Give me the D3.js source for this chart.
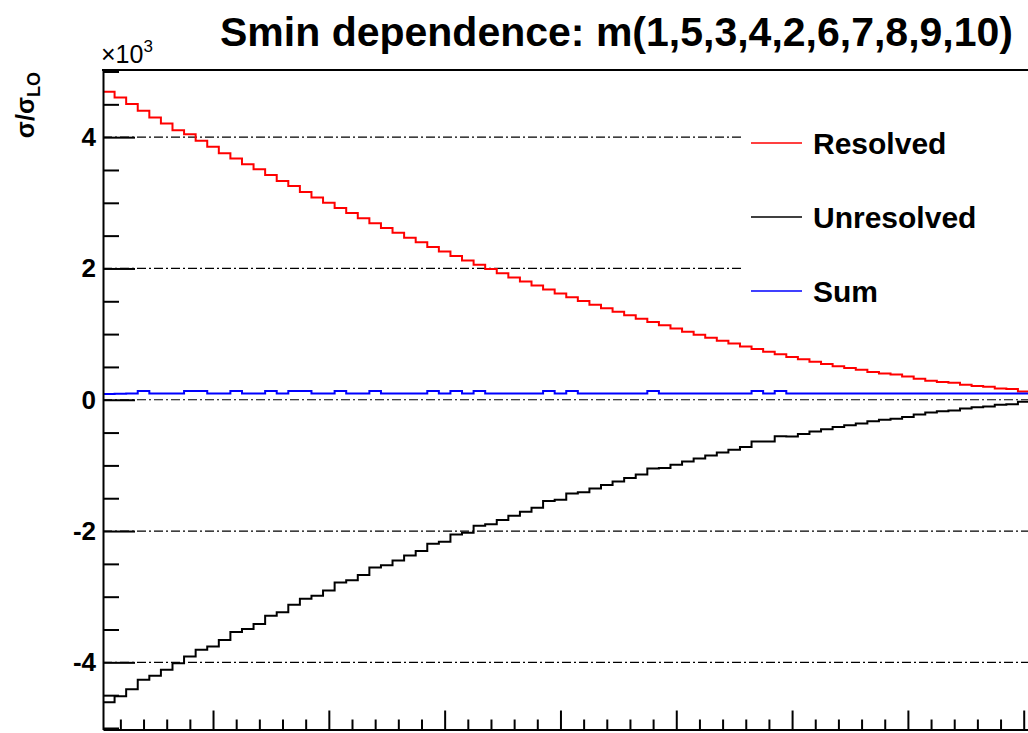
<!DOCTYPE html>
<html>
<head>
<meta charset="utf-8">
<script src="https://cdn.jsdelivr.net/npm/d3@7"></script>
<style>
  html, body { margin: 0; padding: 0; background: #fff; }
  svg { display: block; }
  text { font-family: "Liberation Sans", Arial, Helvetica, sans-serif; font-weight: bold; fill: #000; }
</style>
</head>
<body>
<svg id="chart" width="1028" height="733"></svg>
<script>
// Histogram binning of Smin
const nBins = 80;
const xMin = 0.0005;
const xMax = 0.0805;

// Bin contents (sigma / sigma_LO)
const resolved = [
  4692, 4606, 4504, 4402, 4300, 4209, 4107, 4046, 3944, 3852,
  3756, 3674, 3588, 3511, 3424, 3333, 3257, 3165, 3079, 2999,
  2920, 2843, 2766, 2690, 2616, 2542, 2469, 2398, 2327, 2258,
  2189, 2122, 2056, 1990, 1926, 1863, 1800, 1739, 1679, 1620,
  1562, 1505, 1448, 1393, 1339, 1286, 1235, 1184, 1134, 1085,
  1037,  990,  944,  900,  856,  813,  772,  731,  692,  653,
   616,  579,  544,  509,  484,  458,  423,  400,  385,  356,
   321,  290,  270,  258,  229,  210,  198,  172,  163,  127
];
const unresolved = [
  -4606, -4516, -4409, -4267, -4205, -4114, -4012, -3911, -3809, -3757,
  -3661, -3539, -3493, -3416, -3289, -3238, -3122, -3030, -2984, -2904,
  -2785, -2748, -2671, -2555, -2521, -2447, -2374, -2303, -2192, -2163,
  -2054, -2027, -1921, -1895, -1831, -1768, -1705, -1644, -1544, -1525,
  -1427, -1410, -1353, -1298, -1244, -1191, -1140, -1049, -1039,  -990,
   -942,  -895,  -849,  -805,  -761,  -718,  -637,  -636,  -557,  -558,
   -521,  -484,  -449,  -414,  -389,  -363,  -328,  -305,  -290,  -261,
   -226,  -195,  -175,  -163,  -134,  -115,  -103,   -77,   -68,   -32
];
const sum = [
   86,  90,  95, 135,  95,  95,  95, 135, 135,  95,
   95, 135,  95,  95, 135,  95, 135, 135,  95,  95,
  135,  95,  95, 135,  95,  95,  95,  95, 135,  95,
  135,  95, 135,  95,  95,  95,  95,  95, 135,  95,
  135,  95,  95,  95,  95,  95,  95, 135,  95,  95,
   95,  95,  95,  95,  95,  95, 135,  95, 135,  95,
   95,  95,  95,  95,  95,  95,  95,  95,  95,  95,
   95,  95,  95,  95,  95,  95,  95,  95,  95,  95
];

// Axis ticks
const yMajorTicks = [-4000, -2000, 0, 2000, 4000];
const yTickLabels = ["-4", "-2", "0", "2", "4"];
const yMinorStep = 500;
const yLimit = 5023;
const xMajorStep = 0.01;
const xMinorStep = 0.002;

// Legend
const seriesNames = ["Resolved", "Unresolved", "Sum"];
const seriesColors = ["#ff0000", "#000000", "#0000ff"];
const seriesData = [resolved, unresolved, sum];

const titleText = "Smin dependence: m(1,5,3,4,2,6,7,8,9,10)";

const frame = { left: 103, right: 1029.5, top: 70, bottom: 729.5 };
const svg = d3.select("#chart");

const x = d3.scaleLinear().domain([xMin, xMax]).range([frame.left, frame.right]);
const y = d3.scaleLinear().domain([-yLimit, yLimit]).range([frame.bottom, frame.top]);

const binWidth = (xMax - xMin) / nBins;

// Horizontal dash-dot grid at the major y ticks
svg.append("g").selectAll("line")
  .data(yMajorTicks)
  .join("line")
  .attr("x1", frame.left).attr("x2", frame.right)
  .attr("y1", d => y(d)).attr("y2", d => y(d))
  .attr("stroke", "#000")
  .attr("stroke-width", 1.2)
  .attr("stroke-dasharray", "9,3,2,3");

// Step outlines of the histograms
const stepLine = d3.line().x(d => x(d[0])).y(d => y(d[1]));
function stepPoints(values) {
  return values.flatMap((v, i) => [
    [xMin + i * binWidth, v],
    [xMin + (i + 1) * binWidth, v]
  ]);
}
svg.append("g").selectAll("path")
  .data(seriesData)
  .join("path")
  .attr("d", d => stepLine(stepPoints(d)))
  .attr("fill", "none")
  .attr("stroke", (d, i) => seriesColors[i])
  .attr("stroke-width", 2);

// Legend (white box without border)
const legend = svg.append("g");
const legendTop = 106, legendStep = 74;
legend.append("rect")
  .attr("x", 741).attr("y", legendTop)
  .attr("width", 300).attr("height", legendStep * seriesNames.length)
  .attr("fill", "#fff");
const entries = legend.selectAll("g.entry")
  .data(seriesNames)
  .join("g")
  .attr("class", "entry")
  .attr("transform", (d, i) => `translate(0,${legendTop + legendStep * (i + 0.5)})`);
entries.append("line")
  .attr("x1", 751).attr("x2", 802)
  .attr("y1", 0).attr("y2", 0)
  .attr("stroke", (d, i) => seriesColors[i])
  .attr("stroke-width", 1.6);
entries.append("text")
  .attr("x", 813).attr("y", 0).attr("dy", "0.36em")
  .style("font-size", "30px")
  .text(d => d);

// Y axis: major ticks with labels, minor ticks, ticks pointing inward
const yMinorTicks = d3.range(-5000, 5000 + 1, yMinorStep).filter(v => !yMajorTicks.includes(v));
const yMajorAxis = d3.axisLeft(y)
  .tickValues(yMajorTicks)
  .tickSizeInner(-32).tickSizeOuter(0).tickPadding(7)
  .tickFormat((d, i) => yTickLabels[i]);
const gy = svg.append("g").attr("transform", `translate(${frame.left},0)`).call(yMajorAxis);
gy.select(".domain").attr("stroke", "#000").attr("stroke-width", 2);
gy.selectAll(".tick line").attr("stroke", "#000").attr("stroke-width", 2);
gy.selectAll(".tick text")
  .style("font-family", "'Liberation Sans', Arial, sans-serif")
  .style("font-weight", "bold")
  .style("font-size", "26px")
  .attr("fill", "#000");
const gyMinor = svg.append("g").attr("transform", `translate(${frame.left},0)`)
  .call(d3.axisLeft(y).tickValues(yMinorTicks).tickSizeInner(-16).tickSizeOuter(0).tickFormat(""));
gyMinor.select(".domain").remove();
gyMinor.selectAll(".tick line").attr("stroke", "#000").attr("stroke-width", 2);

// X axis: ticks only (labels fall outside the canvas)
const xMajorTicks = d3.range(1, 9).map(k => +(k * xMajorStep).toFixed(4));
const xMinorTicks = d3.range(1, 41).map(k => +(k * xMinorStep).toFixed(4))
  .filter(v => !xMajorTicks.some(m => Math.abs(m - v) < 1e-9));
const gx = svg.append("g").attr("transform", `translate(0,${frame.bottom})`)
  .call(d3.axisBottom(x).tickValues(xMajorTicks).tickSizeInner(-19).tickSizeOuter(0).tickFormat(""));
gx.select(".domain").attr("stroke", "#000").attr("stroke-width", 2);
gx.selectAll(".tick line").attr("stroke", "#000").attr("stroke-width", 2);
const gxMinor = svg.append("g").attr("transform", `translate(0,${frame.bottom})`)
  .call(d3.axisBottom(x).tickValues(xMinorTicks).tickSizeInner(-10).tickSizeOuter(0).tickFormat(""));
gxMinor.select(".domain").remove();
gxMinor.selectAll(".tick line").attr("stroke", "#000").attr("stroke-width", 2);

// Top frame edge
svg.append("line")
  .attr("x1", frame.left - 1).attr("x2", frame.right)
  .attr("y1", frame.top).attr("y2", frame.top)
  .attr("stroke", "#000").attr("stroke-width", 2);

// Exponent of the y axis
const expo = svg.append("text").attr("x", 101).attr("y", 63)
  .style("font-size", "25px").style("font-weight", "normal");
expo.append("tspan").text("\u00d710");
expo.append("tspan").attr("dy", -11).style("font-size", "17px").text("3");

// Y axis title
const yTitle = svg.append("text")
  .attr("transform", "translate(34,72) rotate(-90)")
  .attr("text-anchor", "end")
  .style("font-size", "25px");
yTitle.append("tspan").text("\u03c3/\u03c3");
yTitle.append("tspan").attr("dy", 6).style("font-size", "18px").text("LO");

// Title
svg.append("text")
  .attr("x", 220).attr("y", 46)
  .style("font-size", "41px")
  .text(titleText);
</script>
</body>
</html>
